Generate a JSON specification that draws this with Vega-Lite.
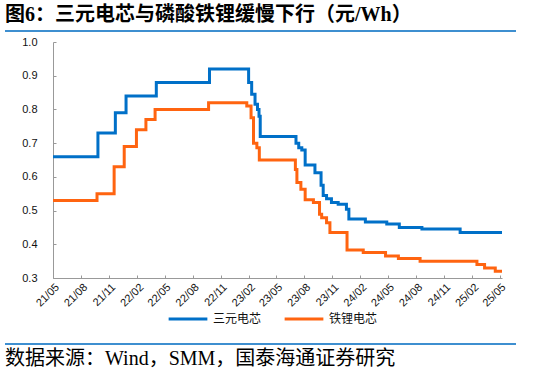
{
  "$schema": "https://vega.github.io/schema/vega-lite/v6.json",
  "padding": {"left": 5, "top": 5, "right": 5, "bottom": 3},
  "autosize": {"type": "pad"},
  "background": "white",
  "config": {"view": {"stroke": null}, "font": "Liberation Sans"},
  "datasets": {
    "series": [
      {"d": "2021-05-01", "s": "三元电芯", "v": 0.66},
      {"d": "2021-09-25", "s": "三元电芯", "v": 0.73},
      {"d": "2021-11-21", "s": "三元电芯", "v": 0.79},
      {"d": "2021-12-26", "s": "三元电芯", "v": 0.84},
      {"d": "2022-04-04", "s": "三元电芯", "v": 0.88},
      {"d": "2022-09-25", "s": "三元电芯", "v": 0.92},
      {"d": "2023-01-31", "s": "三元电芯", "v": 0.88},
      {"d": "2023-02-10", "s": "三元电芯", "v": 0.845},
      {"d": "2023-02-21", "s": "三元电芯", "v": 0.815},
      {"d": "2023-03-01", "s": "三元电芯", "v": 0.80},
      {"d": "2023-03-06", "s": "三元电芯", "v": 0.78},
      {"d": "2023-03-10", "s": "三元电芯", "v": 0.72},
      {"d": "2023-07-05", "s": "三元电芯", "v": 0.70},
      {"d": "2023-07-14", "s": "三元电芯", "v": 0.686},
      {"d": "2023-07-24", "s": "三元电芯", "v": 0.68},
      {"d": "2023-08-04", "s": "三元电芯", "v": 0.635},
      {"d": "2023-09-05", "s": "三元电芯", "v": 0.612},
      {"d": "2023-09-25", "s": "三元电芯", "v": 0.575},
      {"d": "2023-10-02", "s": "三元电芯", "v": 0.545},
      {"d": "2023-10-13", "s": "三元电芯", "v": 0.535},
      {"d": "2023-10-29", "s": "三元电芯", "v": 0.524},
      {"d": "2023-11-20", "s": "三元电芯", "v": 0.519},
      {"d": "2023-12-17", "s": "三元电芯", "v": 0.504},
      {"d": "2023-12-25", "s": "三元电芯", "v": 0.475},
      {"d": "2024-02-17", "s": "三元电芯", "v": 0.466},
      {"d": "2024-04-27", "s": "三元电芯", "v": 0.46},
      {"d": "2024-06-07", "s": "三元电芯", "v": 0.45},
      {"d": "2024-08-20", "s": "三元电芯", "v": 0.445},
      {"d": "2024-12-23", "s": "三元电芯", "v": 0.435},
      {"d": "2025-05-09", "s": "三元电芯", "v": 0.435},
      {"d": "2021-05-01", "s": "铁锂电芯", "v": 0.53},
      {"d": "2021-09-22", "s": "铁锂电芯", "v": 0.55},
      {"d": "2021-11-17", "s": "铁锂电芯", "v": 0.63},
      {"d": "2021-12-20", "s": "铁锂电芯", "v": 0.69},
      {"d": "2022-01-29", "s": "铁锂电芯", "v": 0.74},
      {"d": "2022-03-01", "s": "铁锂电芯", "v": 0.77},
      {"d": "2022-03-31", "s": "铁锂电芯", "v": 0.80},
      {"d": "2022-09-22", "s": "铁锂电芯", "v": 0.82},
      {"d": "2023-01-25", "s": "铁锂电芯", "v": 0.81},
      {"d": "2023-02-08", "s": "铁锂电芯", "v": 0.775},
      {"d": "2023-02-16", "s": "铁锂电芯", "v": 0.70},
      {"d": "2023-02-27", "s": "铁锂电芯", "v": 0.686},
      {"d": "2023-03-07", "s": "铁锂电芯", "v": 0.65},
      {"d": "2023-07-03", "s": "铁锂电芯", "v": 0.622},
      {"d": "2023-07-08", "s": "铁锂电芯", "v": 0.583},
      {"d": "2023-07-21", "s": "铁锂电芯", "v": 0.563},
      {"d": "2023-08-04", "s": "铁锂电芯", "v": 0.532},
      {"d": "2023-08-31", "s": "铁锂电芯", "v": 0.524},
      {"d": "2023-09-20", "s": "铁锂电芯", "v": 0.489},
      {"d": "2023-09-27", "s": "铁锂电芯", "v": 0.479},
      {"d": "2023-10-13", "s": "铁锂电芯", "v": 0.464},
      {"d": "2023-10-24", "s": "铁锂电芯", "v": 0.435},
      {"d": "2023-12-19", "s": "铁锂电芯", "v": 0.383},
      {"d": "2024-02-10", "s": "铁锂电芯", "v": 0.376},
      {"d": "2024-04-23", "s": "铁锂电芯", "v": 0.365},
      {"d": "2024-06-04", "s": "铁锂电芯", "v": 0.358},
      {"d": "2024-08-14", "s": "铁锂电芯", "v": 0.35},
      {"d": "2025-02-16", "s": "铁锂电芯", "v": 0.34},
      {"d": "2025-03-13", "s": "铁锂电芯", "v": 0.33},
      {"d": "2025-04-17", "s": "铁锂电芯", "v": 0.32},
      {"d": "2025-05-09", "s": "铁锂电芯", "v": 0.32}
    ]
  },
  "spacing": 4,
  "resolve": {"scale": {"color": "independent"}, "legend": {"color": "independent"}},
  "vconcat": [
    {
      "title": {"text": "图6：三元电芯与磷酸铁锂缓慢下行（元/Wh）", "anchor": "start", "frame": "group", "font": "Liberation Serif, Noto Sans CJK SC", "fontSize": 20, "fontWeight": "bold", "color": "#000000", "offset": 5},
      "width": 511,
      "height": 2,
      "view": {"fill": "#3E8FD0", "stroke": null},
      "data": {"values": []},
      "mark": "point"
    },
    {
      "spacing": 0,
      "resolve": {"scale": {"color": "independent"}, "legend": {"color": "independent"}},
      "hconcat": [
        {"width": 16, "height": 236, "data": {"values": []}, "mark": "point"},
        {
          "width": 449,
          "height": 236,
          "data": {"name": "series"},
          "mark": {"type": "line", "interpolate": "step-after", "strokeWidth": 3},
          "encoding": {
            "x": {
              "field": "d", "type": "temporal",
              "scale": {"type": "utc", "domain": [{"year": 2021, "month": 5, "date": 1, "utc": true}, {"year": 2025, "month": 5, "date": 9, "utc": true}]},
              "axis": {
                "title": null,
                "values": [
                  {"year": 2021, "month": 5, "date": 1, "utc": true},
                  {"year": 2021, "month": 8, "date": 1, "utc": true},
                  {"year": 2021, "month": 11, "date": 1, "utc": true},
                  {"year": 2022, "month": 2, "date": 1, "utc": true},
                  {"year": 2022, "month": 5, "date": 1, "utc": true},
                  {"year": 2022, "month": 8, "date": 1, "utc": true},
                  {"year": 2022, "month": 11, "date": 1, "utc": true},
                  {"year": 2023, "month": 2, "date": 1, "utc": true},
                  {"year": 2023, "month": 5, "date": 1, "utc": true},
                  {"year": 2023, "month": 8, "date": 1, "utc": true},
                  {"year": 2023, "month": 11, "date": 1, "utc": true},
                  {"year": 2024, "month": 2, "date": 1, "utc": true},
                  {"year": 2024, "month": 5, "date": 1, "utc": true},
                  {"year": 2024, "month": 8, "date": 1, "utc": true},
                  {"year": 2024, "month": 11, "date": 1, "utc": true},
                  {"year": 2025, "month": 2, "date": 1, "utc": true},
                  {"year": 2025, "month": 5, "date": 1, "utc": true}
                ],
                "format": "%y/%m",
                "labelAngle": -45,
                "labelFontSize": 11,
                "labelColor": "#111111",
                "labelFont": "Liberation Sans",
                "tickSize": -3,
                "tickColor": "#999999",
                "domainColor": "#999999",
                "labelPadding": 6,
                "grid": false,
                "labelOverlap": false,
                "labelFlush": false
              }
            },
            "y": {
              "field": "v", "type": "quantitative",
              "scale": {"domain": [0.3, 1.0], "nice": false, "zero": false},
              "axis": {
                "title": null,
                "values": [0.3, 0.4, 0.5, 0.6, 0.7, 0.8, 0.9, 1.0],
                "format": ".1f",
                "labelFontSize": 11,
                "labelColor": "#111111",
                "labelFont": "Liberation Sans",
                "tickSize": -3,
                "tickColor": "#999999",
                "domainColor": "#999999",
                "labelPadding": 19,
                "grid": false
              }
            },
            "color": {
              "field": "s", "type": "nominal",
              "scale": {"domain": ["三元电芯", "铁锂电芯"], "range": ["#0070C8", "#FF6410"]},
              "legend": {
                "title": null,
                "orient": "none",
                "legendX": 100,
                "legendY": 242,
                "direction": "horizontal",
                "symbolType": "stroke",
                "symbolStrokeWidth": 3,
                "symbolSize": 1500,
                "labelFontSize": 12,
                "labelFont": "Noto Sans CJK SC",
                "labelColor": "#111111",
                "columnPadding": 16,
                "labelOffset": 4,
                "padding": 14
              }
            }
          }
        }
      ]
    },
    {
      "title": {"text": "数据来源：Wind，SMM，国泰海通证券研究", "orient": "bottom", "anchor": "start", "frame": "group", "font": "Liberation Serif, Noto Sans CJK SC", "fontSize": 20, "fontWeight": "normal", "color": "#000000", "offset": 4},
      "width": 511,
      "height": 2,
      "view": {"fill": "#3E8FD0", "stroke": null},
      "data": {"values": []},
      "mark": "point"
    }
  ]
}
